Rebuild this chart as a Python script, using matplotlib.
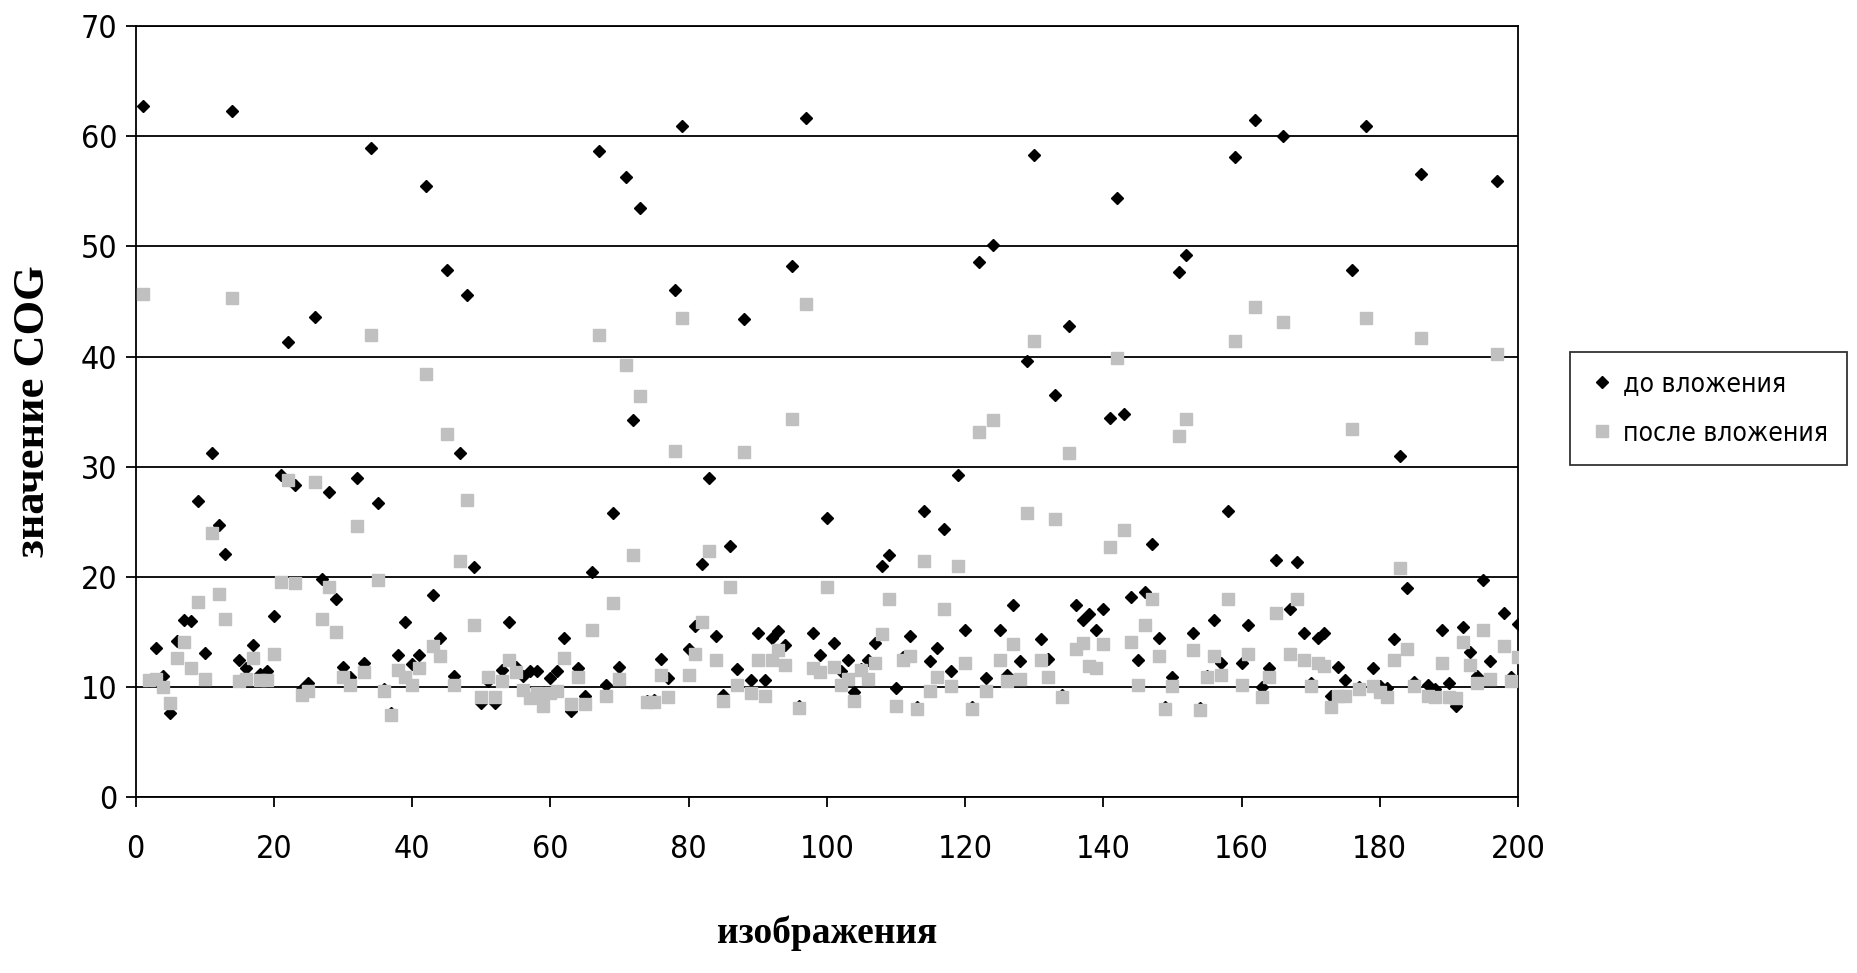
import matplotlib
matplotlib.use("Agg")
import matplotlib.pyplot as plt
from matplotlib import font_manager
import numpy as np

# image index 1..200
images = list(range(1, 201))

# COG value before embedding (black diamonds)
cog_before = [
    62.8, 10.5, 13.5, 11.0, 7.6, 14.2, 16.1, 16.0, 26.9, 13.1,
    31.2, 24.7, 22.1, 62.3, 12.4, 11.7, 13.8, 11.2, 11.4, 16.4,
    29.2, 41.3, 28.3, 9.8, 10.3, 43.6, 19.8, 27.7, 18.0, 11.8,
    10.9, 29.0, 12.2, 58.9, 26.7, 9.8, 7.6, 12.9, 15.9, 12.1,
    12.9, 55.5, 18.3, 14.4, 47.9, 11.0, 31.2, 45.6, 20.9, 8.5,
    10.5, 8.5, 11.5, 15.9, 11.8, 11.0, 11.4, 11.4, 8.5, 10.8,
    11.4, 14.4, 7.8, 11.7, 9.2, 20.4, 58.7, 10.2, 25.8, 11.8,
    56.3, 34.2, 53.5, 8.7, 8.8, 12.5, 10.8, 46.0, 60.9, 13.4,
    15.5, 21.2, 29.0, 14.6, 9.3, 22.8, 11.6, 43.4, 10.6, 14.9,
    10.6, 14.4, 15.1, 13.8, 48.2, 8.3, 61.7, 14.9, 12.9, 25.3,
    14.0, 11.4, 12.4, 9.5, 11.6, 12.4, 14.0, 21.0, 22.0, 9.9,
    12.7, 14.6, 8.2, 26.0, 12.3, 13.5, 24.3, 11.4, 29.2, 15.2,
    8.2, 48.6, 10.8, 50.1, 15.2, 11.1, 17.4, 12.3, 39.6, 58.3,
    14.3, 12.5, 36.5, 9.3, 42.8, 17.4, 16.1, 16.6, 15.2, 17.1,
    34.4, 54.4, 34.8, 18.2, 12.4, 18.6, 23.0, 14.4, 8.2, 10.9,
    47.7, 49.2, 14.9, 8.1, 11.0, 16.1, 12.2, 26.0, 58.1, 12.2,
    15.6, 61.5, 10.0, 11.7, 21.5, 60.0, 17.1, 21.3, 14.9, 10.3,
    14.4, 14.9, 9.2, 11.8, 10.6, 47.9, 10.0, 60.9, 11.7, 10.1,
    9.9, 14.3, 31.0, 19.0, 10.4, 56.6, 10.2, 9.8, 15.2, 10.3,
    8.3, 15.4, 13.2, 11.0, 19.7, 12.3, 55.9, 16.7, 10.9, 15.7,
]

# COG value after embedding (grey squares)
cog_after = [
    45.7, 10.6, 10.7, 10.0, 8.5, 12.6, 14.1, 11.7, 17.7, 10.7,
    24.0, 18.4, 16.2, 45.3, 10.5, 10.7, 12.6, 10.6, 10.6, 13.0,
    19.5, 28.8, 19.4, 9.3, 9.6, 28.6, 16.2, 19.1, 15.0, 10.9,
    10.2, 24.6, 11.3, 42.0, 19.7, 9.6, 7.4, 11.5, 10.9, 10.2,
    11.7, 38.4, 13.7, 12.8, 33.0, 10.2, 21.4, 27.0, 15.6, 9.1,
    10.9, 9.1, 10.5, 12.4, 11.3, 9.7, 9.0, 9.4, 8.3, 9.4,
    9.6, 12.6, 8.4, 10.9, 8.4, 15.2, 42.0, 9.2, 17.6, 10.7,
    39.2, 22.0, 36.4, 8.6, 8.6, 11.1, 9.1, 31.4, 43.5, 11.1,
    13.0, 15.9, 22.3, 12.4, 8.7, 19.1, 10.2, 31.3, 9.4, 12.4,
    9.2, 12.4, 13.3, 12.0, 34.3, 8.1, 44.8, 11.7, 11.3, 19.1,
    11.8, 10.2, 10.7, 8.7, 11.5, 10.7, 12.2, 14.8, 18.0, 8.3,
    12.4, 12.8, 8.0, 21.4, 9.6, 10.9, 17.1, 10.1, 21.0, 12.2,
    8.0, 33.1, 9.6, 34.2, 12.4, 10.5, 13.9, 10.7, 25.8, 41.4,
    12.4, 10.9, 25.2, 9.1, 31.2, 13.4, 14.0, 11.9, 11.7, 13.9,
    22.7, 39.9, 24.2, 14.1, 10.2, 15.6, 18.0, 12.8, 8.0, 10.1,
    32.8, 34.3, 13.3, 7.9, 10.9, 12.8, 11.1, 18.0, 41.4, 10.2,
    13.0, 44.5, 9.1, 10.9, 16.7, 43.1, 13.0, 18.0, 12.4, 10.1,
    12.2, 11.9, 8.2, 9.2, 9.2, 33.4, 9.8, 43.5, 10.1, 9.5,
    9.1, 12.4, 20.8, 13.4, 10.1, 41.7, 9.2, 9.1, 12.2, 9.1,
    9.0, 14.1, 12.0, 10.3, 15.2, 10.7, 40.2, 13.7, 10.5, 12.7,
]

series_labels = ["до вложения", "после вложения"]
x_ticks = list(range(0, 201, 20))
y_ticks = list(range(0, 71, 10))

# narrow sans for numbers and legend
tick_prop = font_manager.FontProperties(family="DejaVu Sans",
                                        stretch="condensed", size=23)
legend_prop = font_manager.FontProperties(family="DejaVu Sans",
                                          stretch="condensed", size=19)
label_font = ["Liberation Serif", "DejaVu Serif"]

fig = plt.figure(figsize=(18.58, 9.73), dpi=100)
ax = fig.add_axes([0.073, 0.181, 0.744, 0.792])

ax.plot(images, cog_before, linestyle="none", marker="D", markersize=6.5,
        color="black", label=series_labels[0], zorder=3)
ax.plot(images, cog_after, linestyle="none", marker="s", markersize=9,
        color="#c0c0c0", markeredgecolor="#c0c0c0", label=series_labels[1],
        zorder=4)

ax.set_xlim(0, 200)
ax.set_ylim(0, 70)
ax.set_xticks(x_ticks)
ax.set_yticks(y_ticks)
ax.yaxis.grid(True, color="black", linewidth=1.3)
ax.set_axisbelow(True)
for side in ax.spines.values():
    side.set_color("black")
    side.set_linewidth(1.3)
ax.tick_params(direction="out", length=7, width=1.3, colors="black")
ax.tick_params(axis="x", pad=20)
ax.tick_params(axis="y", pad=6)
for lab in ax.get_xticklabels() + ax.get_yticklabels():
    lab.set_fontproperties(tick_prop)

ax.set_xlabel("изображения", family=label_font, fontweight="bold",
              fontsize=27, labelpad=36)
ax.set_ylabel("значение COG", family=label_font, fontweight="bold",
              fontsize=32, labelpad=20)

handles, labels = ax.get_legend_handles_labels()
leg = fig.legend(handles, labels, loc="center",
                 bbox_to_anchor=(0.9195, 0.58), frameon=True, fancybox=False,
                 prop=legend_prop, handletextpad=0.3,
                 handlelength=1.0, borderpad=0.7, labelspacing=0.9)
leg.get_frame().set_edgecolor("black")
leg.get_frame().set_linewidth(1.3)

fig.savefig("out.png", dpi=100)
